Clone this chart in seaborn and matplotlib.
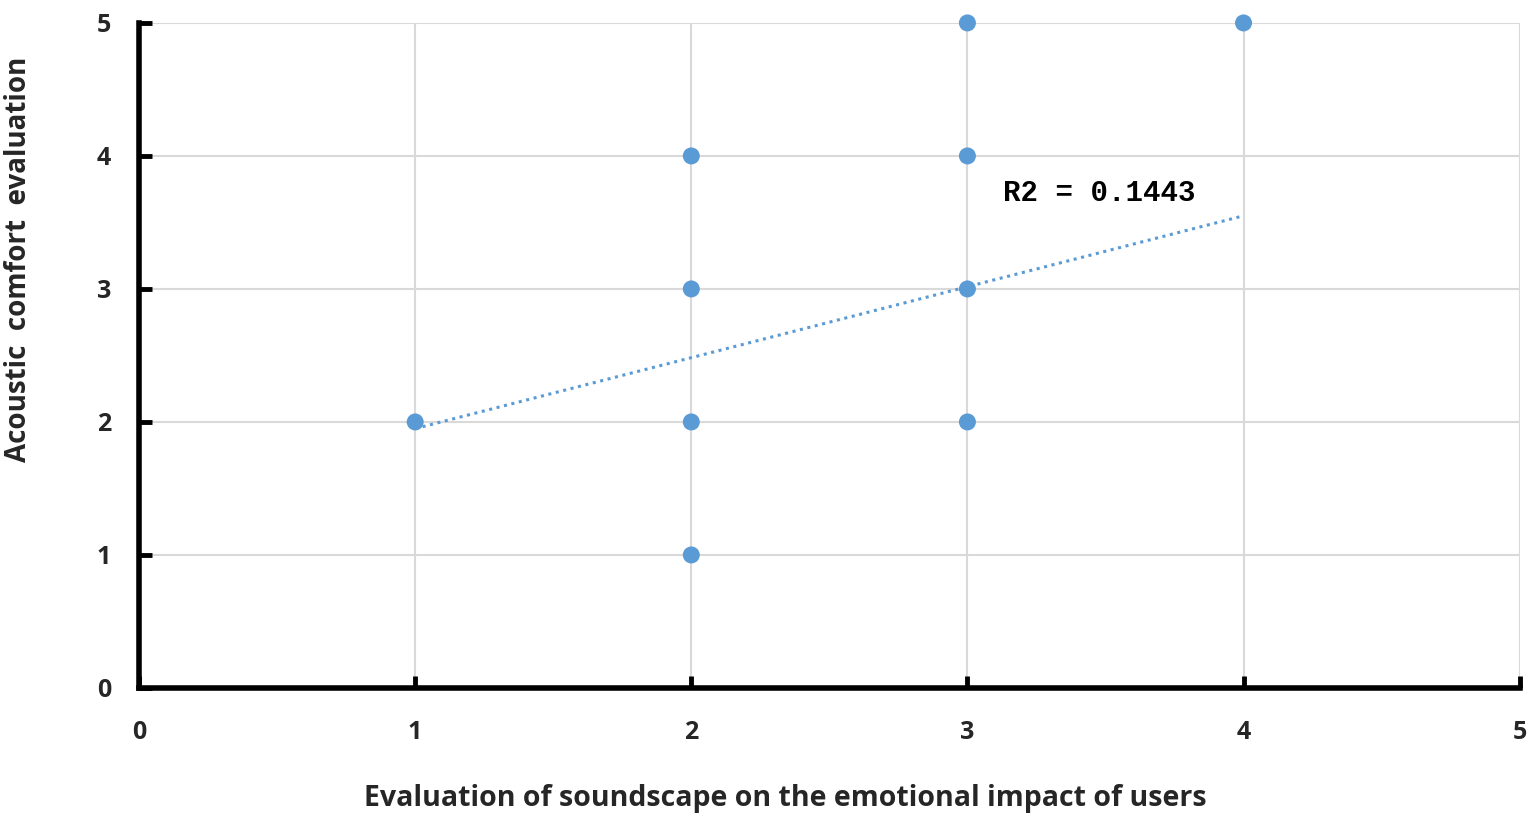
import numpy as np
import pandas as pd
import seaborn as sns
import matplotlib.pyplot as plt

# Data
emotion_score = [1, 2, 2, 2, 2, 3, 3, 3, 3, 4]
comfort_score = [2, 4, 3, 2, 1, 5, 4, 3, 2, 5]

# Trend line end points (linear fit shown on chart)
trend_x = [1, 4]
trend_y = [1.95, 3.55]
r2_label = "R2 = 0.1443"

ticks = [0, 1, 2, 3, 4, 5]

df = pd.DataFrame({"emotion": emotion_score, "comfort": comfort_score})
trend = pd.DataFrame({"x": trend_x, "y": trend_y})

sns.set_theme(style="whitegrid")
plt.rcParams['font.family'] = ['Open Sans', 'DejaVu Sans']

fig, ax = plt.subplots(figsize=(15.35, 8.19), dpi=100)
fig.subplots_adjust(left=0.0906, right=0.990, bottom=0.160, top=0.972)

blue = "#5B9BD5"
sns.lineplot(data=trend, x="x", y="y", ax=ax, color=blue, linestyle=(0, (1, 1.5)),
             linewidth=2.2, zorder=2)
sns.scatterplot(data=df, x="emotion", y="comfort", ax=ax, color=blue, s=150,
                edgecolor="none", zorder=3, clip_on=False)

ax.set_xlim(0, 5)
ax.set_ylim(0, 5)
ax.set_xticks(ticks)
ax.set_yticks(ticks)
ax.set_xticklabels([str(t) for t in ticks], fontsize=18, fontweight="bold")
ax.set_yticklabels([str(t) for t in ticks], fontsize=18, fontweight="bold")

ax.grid(True, color="#D9D9D9", linewidth=1.5)
ax.set_facecolor("white")
for side in ["top", "right"]:
    ax.spines[side].set_visible(False)
for side in ["left", "bottom"]:
    ax.spines[side].set_visible(True)
    ax.spines[side].set_color("black")
    ax.spines[side].set_linewidth(4)

ax.tick_params(axis="both", direction="in", length=9, width=3.5, color="black",
               bottom=True, left=True)
ax.tick_params(axis="x", pad=23)
ax.tick_params(axis="y", pad=20)

ax.set_xlabel("Evaluation of soundscape on the emotional impact of users",
              fontsize=20.5, fontweight="bold", color="#262626")
ax.set_ylabel("Acoustic  comfort  evaluation", fontsize=20, fontweight="bold",
              color="#262626")
ax.xaxis.set_label_coords(0.468, -0.145)
ax.yaxis.set_label_coords(-0.077, 0.644)

ax.text(3.13, 3.72, r2_label, fontsize=21, family=["Liberation Mono", "DejaVu Sans Mono"],
        fontweight="bold", color="black", ha="left", va="center")

plt.savefig("out.png", dpi=100)
plt.close()
